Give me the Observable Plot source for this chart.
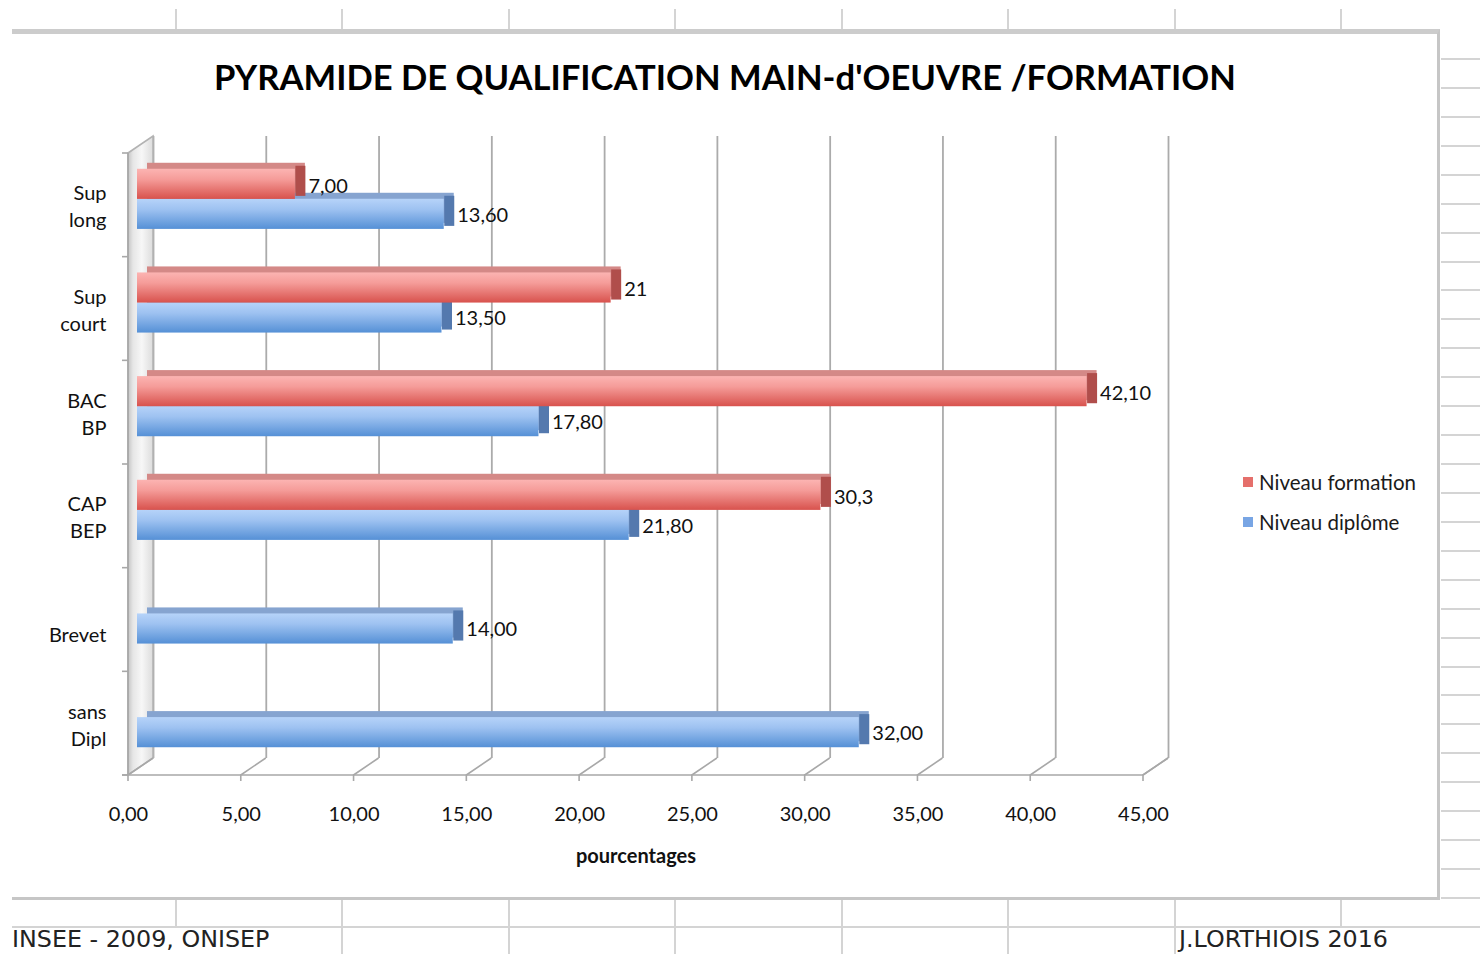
<!DOCTYPE html>
<html>
<head>
<meta charset="utf-8">
<script src="https://cdn.jsdelivr.net/npm/d3@7"></script>
<script src="https://cdn.jsdelivr.net/npm/@observablehq/plot@0.6"></script>
<style>
html, body { margin: 0; padding: 0; background: #fff; }
body { width: 1480px; height: 954px; position: relative; overflow: hidden; font-family: Lato, sans-serif; }
.sheet { position: absolute; background: #d4d4d4; }
#chartbox { position: absolute; left: 12px; top: 29px; width: 1428px; height: 871px; background: #fff;
  border-top: 5px solid #cccccc; border-right: 3px solid #c6c6c6; border-bottom: 3px solid #c6c6c6; box-sizing: border-box; }
#title { position: absolute; left: 12px; width: 1426px; top: 60px; text-align: center; font: bold 34.6px Lato, sans-serif; line-height: 1; color: #000; white-space: nowrap; }
#chart { position: absolute; left: 0; top: 0; }
#legend { position: absolute; left: 1243px; top: 472px; font: 20.5px Lato, sans-serif; color: #1a1a1a; }
#legend .item { display: flex; align-items: center; height: 20px; margin-bottom: 20px; line-height: 1; white-space: nowrap; }
#legend .sw { width: 10px; height: 10px; margin-right: 6px; }
.foot { position: absolute; font: 23.8px "DejaVu Sans", sans-serif; line-height: 1; color: #222; white-space: nowrap; }
</style>
</head>
<body>
<div id="sheet"></div>
<div id="chartbox"></div>
<div id="chart"></div>
<div id="title">PYRAMIDE DE QUALIFICATION MAIN-d'OEUVRE /FORMATION</div>
<div id="legend"></div>
<div class="foot" style="left:12px; top:928px;">INSEE - 2009, ONISEP</div>
<div class="foot" style="left:1179px; top:928px;">J.LORTHIOIS 2016</div>
<script>
// ---------- data ----------
const categories = ["Sup\nlong", "Sup\ncourt", "BAC\nBP", "CAP\nBEP", "\nBrevet", "sans\nDipl"];
const seriesNames = ["Niveau formation", "Niveau diplôme"];
const formation = [7.00, 21, 42.10, 30.3, null, null];
const formationLabels = ["7,00", "21", "42,10", "30,3", null, null];
const diplome = [13.60, 13.50, 17.80, 21.80, 14.00, 32.00];
const diplomeLabels = ["13,60", "13,50", "17,80", "21,80", "14,00", "32,00"];
const xTicks = [0, 5, 10, 15, 20, 25, 30, 35, 40, 45];
const xTickLabels = ["0,00", "5,00", "10,00", "15,00", "20,00", "25,00", "30,00", "35,00", "40,00", "45,00"];
const axisTitle = "pourcentages";

// ---------- spreadsheet background ----------
const sheet = document.getElementById("sheet");
function line(l, t, w, h) {
  const d = document.createElement("div");
  d.className = "sheet";
  Object.assign(d.style, {left: l + "px", top: t + "px", width: w + "px", height: h + "px"});
  sheet.appendChild(d);
}
const colX = [175, 341, 508, 674, 841, 1007, 1174, 1340];
colX.forEach(x => line(x, 9, 2, 22));
for (let k = 0; k <= 28; k++) line(1441, Math.round(58 + 28.93 * k), 39, 2);
line(1441, 897, 39, 2);
line(12, 926, 1468, 2);
colX.forEach(x => line(x, 900, 2, 26));
colX.filter(x => x !== 175 && x !== 1340).forEach(x => line(x, 928, 2, 26));

// ---------- legend ----------
const legendColors = ["#e56f6b", "#78a5e4"];
const legend = document.getElementById("legend");
seriesNames.forEach((s, i) => {
  const it = document.createElement("div");
  it.className = "item";
  it.innerHTML = `<span class="sw" style="background:${legendColors[i]}"></span><span>${s}</span>`;
  legend.appendChild(it);
});

// ---------- table ----------
const rows = categories.flatMap((c, i) => [
  {cat: c, series: seriesNames[0], value: formation[i], label: formationLabels[i]},
  {cat: c, series: seriesNames[1], value: diplome[i], label: diplomeLabels[i]}
]).filter(d => d.value != null);
const red = rows.filter(d => d.series === seriesNames[0]);
const blue = rows.filter(d => d.series === seriesNames[1]);

// ---------- custom svg pieces ----------
const defsMark = () => {
  const g = d3.create("svg:g");
  const defs = g.append("defs");
  const mk = (id, stops, horiz) => {
    const lg = defs.append("linearGradient").attr("id", id)
      .attr("x1", 0).attr("y1", 0).attr("x2", horiz ? 1 : 0).attr("y2", horiz ? 0 : 1);
    stops.forEach(([o, c]) => lg.append("stop").attr("offset", o).attr("stop-color", c));
  };
  mk("gradFormation", [[0, "#fcb4b2"], [0.35, "#f59c99"], [1, "#d8524d"]]);
  mk("gradDiplome", [[0, "#b6d3f9"], [0.35, "#9ec2f1"], [1, "#5590d6"]]);
  mk("gradWall", [[0, "#c4c4c4"], [0.2, "#e6e6e6"], [0.55, "#f7f7f7"], [1, "#dcdcdc"]], true);
  return g.node();
};

const DX = 25, DY = 17;
const frame3d = (index, scales, values, dims) => {
  const x = scales.x;
  const top = dims.marginTop, bottom = dims.height - dims.marginBottom;
  const x0 = x(xTicks[0]), x1 = x(xTicks[xTicks.length - 1]);
  const g = d3.create("svg:g").attr("fill", "none").attr("stroke", "#b3b3b3").attr("stroke-width", 1.6);
  // left wall (thin plate)
  g.append("path")
    .attr("d", `M${x0},${top}L${x0 + DX},${top - DY}L${x0 + DX},${bottom - DY}L${x0},${bottom}Z`)
    .attr("fill", "url(#gradWall)");
  // front vertical axis line & category boundary ticks
  g.append("path").attr("d", `M${x0},${top}V${bottom}`).attr("stroke", "#a8a8a8");
  const step = (bottom - top) / categories.length;
  for (let k = 0; k <= categories.length; k++) {
    const yy = top + k * step;
    g.append("path").attr("d", `M${x0 - 6},${yy}H${x0}`).attr("stroke", "#a8a8a8");
  }
  // floor: front edge, right slant, diagonals at ticks
  g.append("path").attr("d", `M${x0 - 6},${bottom}H${x1}L${x1 + DX},${bottom - DY}`).attr("stroke", "#a8a8a8");
  xTicks.forEach(t => {
    const xx = x(t);
    g.append("path").attr("d", `M${xx},${bottom + 6}V${bottom}L${xx + DX},${bottom - DY}`).attr("stroke", "#a8a8a8");
  });
  return g.node();
};

// ---------- plot ----------
const bandInset = 30;
const layers = (data, isTop, front, topFace, endFace) => [
  Plot.barX(data, {x: "value", y: "cat", fill: topFace, dx: 19, dy: -12,
    insetTop: isTop ? 0 : bandInset, insetBottom: isTop ? bandInset : 0}),
  Plot.tickX(data, {x: "value", y: "cat", stroke: endFace, strokeWidth: 10, dx: 14, dy: -9,
    insetTop: isTop ? 0 : bandInset, insetBottom: isTop ? bandInset : 0}),
  Plot.barX(data, {x: "value", y: "cat", fill: front, dx: 9, dy: -6,
    insetTop: isTop ? 0 : bandInset, insetBottom: isTop ? bandInset : 0}),
  Plot.text(data, {x: "value", y: "cat", text: "label", dx: 22, dy: isTop ? -19 : 10,
    textAnchor: "start", fontSize: 20, fill: "#111"})
];

const chart = Plot.plot({
  width: 1480,
  height: 954,
  marginLeft: 128,
  marginRight: 337,
  marginTop: 153,
  marginBottom: 179,
  style: {background: "transparent", fontFamily: "Lato, sans-serif", color: "#111", overflow: "visible"},
  x: {domain: [xTicks[0], xTicks[xTicks.length - 1]], label: null},
  y: {domain: categories, paddingInner: 0.42, paddingOuter: 0.21, round: false, label: null},
  marks: [
    defsMark,
    Plot.ruleX(xTicks, {dx: DX, dy: -DY, stroke: "#ababab", strokeWidth: 1.8}),
    frame3d,
    ...layers(blue, false, "url(#gradDiplome)", "#86a4d0", "#5479ae"),
    ...layers(red, true, "url(#gradFormation)", "#d48987", "#b04e4b"),
    Plot.axisX(xTicks, {tickFormat: d => xTickLabels[xTicks.indexOf(d)], tickSize: 0, tickPadding: 31,
      fontSize: 20, label: null, fill: "#111"}),
    Plot.axisY({tickSize: 0, tickPadding: 22, fontSize: 20, lineHeight: 1.35, label: null, fill: "#111"}),
    Plot.text([axisTitle], {frameAnchor: "bottom", dy: 87, fontWeight: "bold", fontSize: 20, fill: "#111"})
  ]
});
document.getElementById("chart").appendChild(chart);
</script>
</body>
</html>
